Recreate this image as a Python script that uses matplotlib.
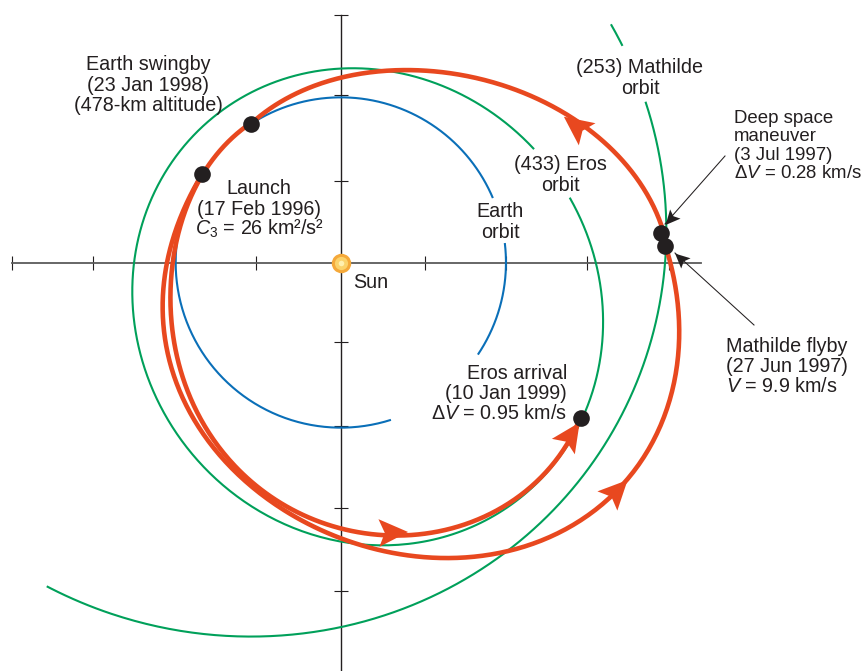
import matplotlib
matplotlib.use("Agg")
import matplotlib.pyplot as plt
import numpy as np
from matplotlib.markers import MarkerStyle
from matplotlib.path import Path
from matplotlib.transforms import Affine2D

plt.rcParams['font.family'] = ['Liberation Sans', 'DejaVu Sans']
plt.rcParams['mathtext.fontset'] = 'custom'
plt.rcParams['mathtext.rm'] = 'Liberation Sans'
plt.rcParams['mathtext.it'] = 'Liberation Sans:italic'

UNITS_PER_AU = 164.0

axis_ticks_x = [-329, -248, -166, -85, 84, 165, 246, 328]
axis_ticks_y = [-328, -245, -163, -79, 82, 168, 248]

# Earth orbit, broken where labels sit on it
earth_a_x = [-90, -60, -30, 0, 40, 80, 119, 140, 152]
earth_a_y = [139, 153, 162, 167, 161, 145, 115, 88, 65]
earth_b_x = [164, 165, 160, 148, 136]
earth_b_y = [20, 0, -40, -73, -91]
earth_c_x = [50, 25, 0, -40, -80, -117, -143, -160, -166, -160, -150, -139]
earth_c_y = [-157, -163, -164, -160, -144, -117, -82, -40, 0, 45, 70, 89]

# Eros orbit
eros_a_x = [239, 251, 259, 262, 257, 249, 231]
eros_a_y = [-155, -122, -82, -37, 0, 30, 66]
eros_b_x = [195, 162, 129, 59, 26, -1, -21, -54, -88, -121, -154, -188, -201, -206, -205, -201,
            -168, -134, -101, -68, -34, -1, 32, 66, 99, 139, 179, 212, 237]
eros_b_y = [115, 143, 163, 189, 192, 192, 190, 185, 173, 156, 126, 73, 13, -17, -47, -92,
            -160, -210, -240, -260, -274, -280, -282, -280, -272, -257, -234, -200, -160]

# Mathilde orbit
mathilde_a_x = [268, 280]
mathilde_a_y = [237, 216]
mathilde_b_x = [304, 316, 326, 327, 326, 322, 314, 292, 252, 212, 159, 139, 89, 39, -1, -44, -91,
                -144, -194, -244, -294]
mathilde_b_y = [161, 116, 53, 23, 3, -37, -77, -127, -194, -240, -294, -307, -334, -354, -365, -371, -374,
                -371, -362, -347, -323]

# spacecraft legs: launch to flyby, maneuver to swingby, swingby to Eros
leg1_x = [-139, -158, -171, -179, -179, -176, -169, -159, -129, -101, -58, -1, 39, 99, 122, 162, 212,
          259, 286, 312, 332, 338, 336, 327]
leg1_y = [89, 50, 13, -25, -34, -67, -100, -134, -184, -217, -244, -274, -287, -295, -295, -289, -274,
          -244, -217, -174, -127, -77, -37, 10]
leg2_x = [327, 317, 306, 286, 262, 225, 191, 139, 99, 59, 26, -1, -34, -68, -90]
leg2_y = [10, 38, 70, 103, 128, 146, 163, 183, 191, 195, 191, 185, 173, 156, 140]
leg3_x = [-90, -118, -139, -156, -166, -172, -168, -162, -151, -121, -93, -58, -34, -1, 39, 99, 139,
          179, 212, 237]
leg3_y = [140, 116, 88, 50, 13, -34, -67, -100, -134, -184, -217, -242, -255, -265, -270, -267, -257,
          -234, -200, -160]

# direction arrows on the trajectory
arrow_x = [234, 52, 230, 276]
arrow_y = [138, -269, -171, -227]
arrow_angle = [143, 2, 56, 46]

# launch, swingby, deep space maneuver, Mathilde flyby, Eros arrival
event_x = [-139, -90, 320, 324, 240]
event_y = [89, 139, 30, 17, -155]

GREEN = '#00a05a'
BLUE = '#0a6fb8'
ORANGE = '#e8481f'
INK = '#231f20'

fig = plt.figure(figsize=(8.63, 6.71), dpi=100)
ax = fig.add_axes([0, 0, 1, 1])
ax.set_xlim(-341 / UNITS_PER_AU, 522 / UNITS_PER_AU)
ax.set_ylim(-408 / UNITS_PER_AU, 263 / UNITS_PER_AU)
ax.patch.set_visible(False)


def au(values):
    return np.array(values, dtype=float) / UNITS_PER_AU


def basis(theta, harmonics):
    cols = [np.ones_like(theta)]
    for k in range(1, harmonics + 1):
        cols += [np.cos(k * theta), np.sin(k * theta)]
    return np.column_stack(cols)


def draw_orbit(arcs, color, lw, z, harmonics=1):
    # my pixel reads are too noisy to join directly, so smooth them:
    # heliocentric orbits are conics, 1/r is close to a + b cos + c sin
    x = np.concatenate([a[0] for a in arcs]).astype(float)
    y = np.concatenate([a[1] for a in arcs]).astype(float)
    theta = np.arctan2(y, x)
    coef = np.linalg.lstsq(basis(theta, harmonics), 1 / np.hypot(x, y), rcond=None)[0]
    for xs, ys in arcs:
        th = np.unwrap(np.arctan2(ys, xs))
        t = np.linspace(th[0], th[-1], 300)
        r = 1 / (basis(t, harmonics) @ coef)
        ax.plot(r * np.cos(t) / UNITS_PER_AU, r * np.sin(t) / UNITS_PER_AU, color=color, lw=lw,
                zorder=z, solid_capstyle='butt')


# barbed arrow head, pointing along +x
head = Path([(1, 0), (-1, 0.95), (-0.6, 0), (-1, -0.95), (1, 0)],
            [Path.MOVETO, Path.LINETO, Path.LINETO, Path.LINETO, Path.CLOSEPOLY])


def draw_head(x, y, angle, color, size, z):
    style = MarkerStyle(head, transform=Affine2D().rotate_deg(angle))
    ax.plot(x / UNITS_PER_AU, y / UNITS_PER_AU, marker=style, ms=size, color=color, mew=0, zorder=z)


def pointer(x0, y0, x1, y1):
    angle = np.degrees(np.arctan2(y1 - y0, x1 - x0))
    ax.plot(au([x0, x1]), au([y0, y1]), color=INK, lw=0.75, zorder=6)
    draw_head(x1 - 7 * np.cos(np.radians(angle)), y1 - 7 * np.sin(np.radians(angle)), angle, INK, 10.5, 6)


def label(x, y, lines, ha='center', step=20.5, size=14.2):
    for i, line in enumerate(lines):
        ax.text(x / UNITS_PER_AU, (y - i * step) / UNITS_PER_AU, line, ha=ha, va='baseline',
                fontsize=size, color=INK, zorder=8)


# the axes through the Sun
for side in ['top', 'right']:
    ax.spines[side].set_visible(False)
ax.spines['left'].set_position('zero')
ax.spines['bottom'].set_position('zero')
ax.spines['left'].set_bounds(-408 / UNITS_PER_AU, 248 / UNITS_PER_AU)
ax.spines['bottom'].set_bounds(-329 / UNITS_PER_AU, 360 / UNITS_PER_AU)
ax.spines['left'].set_color(INK)
ax.spines['left'].set_linewidth(1.0)
ax.spines['bottom'].set_color('#5a5a5a')
ax.spines['bottom'].set_linewidth(1.3)
ax.set_xticks(au(axis_ticks_x))
ax.set_yticks(au(axis_ticks_y))
ax.set_xticklabels([])
ax.set_yticklabels([])
ax.tick_params(axis='x', direction='inout', length=9.5, width=0.8, color=INK)
ax.tick_params(axis='y', direction='inout', length=9.5, width=0.8, color=INK)

# orbits
draw_orbit([(earth_a_x, earth_a_y), (earth_b_x, earth_b_y), (earth_c_x, earth_c_y)], BLUE, 1.5, 3)
draw_orbit([(eros_a_x, eros_a_y), (eros_b_x, eros_b_y)], GREEN, 1.5, 3, harmonics=2)
draw_orbit([(mathilde_a_x, mathilde_a_y), (mathilde_b_x, mathilde_b_y)], GREEN, 1.5, 3)

# trajectory
draw_orbit([(leg1_x, leg1_y)], ORANGE, 3.3, 4, harmonics=3)
draw_orbit([(leg2_x, leg2_y)], ORANGE, 3.3, 4, harmonics=2)
draw_orbit([(leg3_x, leg3_y)], ORANGE, 3.3, 4, harmonics=3)
for x, y, a in zip(arrow_x, arrow_y, arrow_angle):
    draw_head(x, y, a, ORANGE, 21, 5)

ax.plot(au(event_x), au(event_y), 'o', color=INK, ms=12, mew=0, zorder=7)

# Sun
ax.plot(0, 0, 'o', color='#f5a93a', ms=14, mew=0, zorder=7)
ax.plot(0, 0, 'o', color='#fbd36b', ms=9.5, mew=0, zorder=7)
ax.plot(0, 0, 'o', color='#fff0b0', ms=4, mew=0, zorder=7)

pointer(384, 107, 324, 39)
pointer(413, -62, 334, 10)

label(-193, 193, ['Earth swingby', '(23 Jan 1998)', '(478-km altitude)'])
label(-82, 69, ['Launch', '(17 Feb 1996)', r'$\mathit{C}_3$ = 26 km²/s²'])
label(12, -25, ['Sun'], ha='left')
label(159, 46, ['Earth', 'orbit'])
label(219, 93, ['(433) Eros', 'orbit'])
label(299, 190, ['(253) Mathilde', 'orbit'])
label(393, 140, ['Deep space', 'maneuver', '(3 Jul 1997)', r'Δ$\mathit{V}$ = 0.28 km/s'], ha='left', step=18.4,
      size=13.4)
label(385, -89, ['Mathilde flyby', '(27 Jun 1997)', r'$\mathit{V}$ = 9.9 km/s'], ha='left', step=20)
label(226, -116, ['Eros arrival', '(10 Jan 1999)', r'Δ$\mathit{V}$ = 0.95 km/s'], ha='right', step=20)

fig.savefig('out.png', dpi=100)
